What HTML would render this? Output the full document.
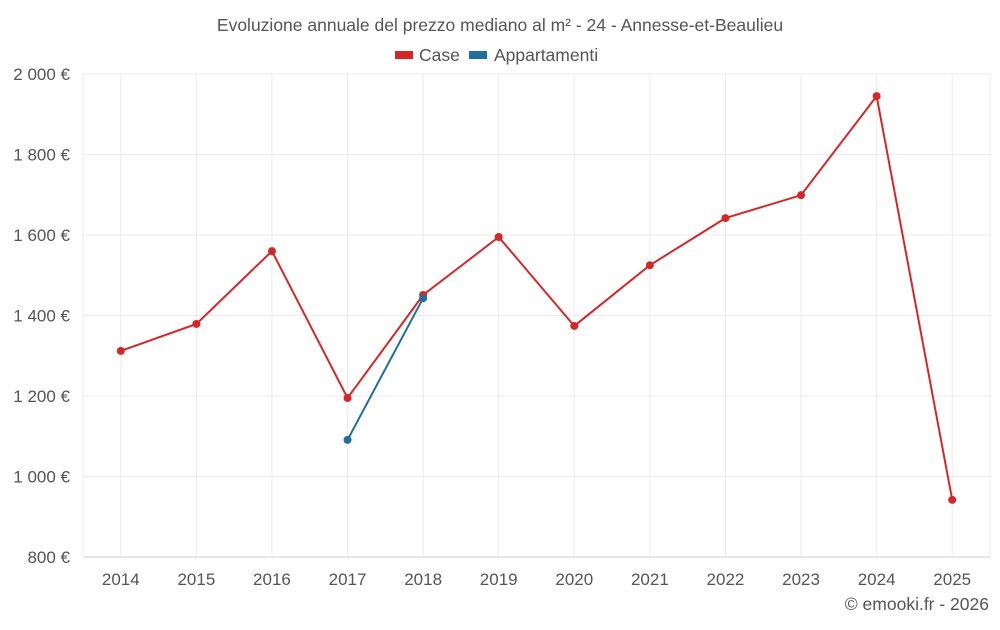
<!DOCTYPE html>
<html><head><meta charset="utf-8"><style>
body{margin:0;background:#fff;font-family:"Liberation Sans",sans-serif;}
svg text{font-family:"Liberation Sans",sans-serif;fill:#555;}
</style></head><body>
<svg id="chart" width="1000" height="625" xmlns="http://www.w3.org/2000/svg">
<text x="500" y="31" text-anchor="middle" font-size="17.5">Evoluzione annuale del prezzo mediano al m² - 24 - Annesse-et-Beaulieu</text>
<g>
<g><rect x="395" y="51" width="18" height="8" fill="#d62728"/><text x="419" y="61" font-size="17.5">Case</text></g>
<g><rect x="469" y="51" width="18" height="8" fill="#1f6fa0"/><text x="494" y="61" font-size="17.5">Appartamenti</text></g>
</g>
<g id="grid"></g><g id="axes"></g><g id="series"></g>
<text x="989" y="610" text-anchor="end" font-size="17.5">© emooki.fr - 2026</text>
</svg>
<script>
const years=[2014,2015,2016,2017,2018,2019,2020,2021,2022,2023,2024,2025];
const caseValues=[1312,1379,1560,1195,1451,1595,1374,1525,1642,1699,1945,942];
const apptYears=[2017,2018];
const apptValues=[1091,1443];
const yTicks=[800,1000,1200,1400,1600,1800,2000];
const yTickLabels=["800 €","1 000 €","1 200 €","1 400 €","1 600 €","1 800 €","2 000 €"];
const L=83,R=990,T=74,B=557,yMin=800,yMax=2000;
const step=(R-L)/years.length;
function x(yr){return L+step*(years.indexOf(yr)+0.5);}
function y(v){return B-(v-yMin)/(yMax-yMin)*(B-T);}
const NS="http://www.w3.org/2000/svg";
function mk(tag,attrs,parent){const e=document.createElementNS(NS,tag);for(const k in attrs)e.setAttribute(k,attrs[k]);document.getElementById(parent).appendChild(e);return e;}
yTicks.forEach((t,i)=>{
 const g=mk('line',{x1:L,x2:R,y1:y(t),y2:y(t),stroke:i===0?'#ccc':'#ebebeb','stroke-width':1},'grid');
 
 
 const tx=mk('text',{x:70,y:y(t)+6,'text-anchor':'end','font-size':17},'axes');tx.textContent=yTickLabels[i];
 
 
});
[L,R].forEach(xx=>{
 const e=mk('line',{x1:xx,x2:xx,y1:T,y2:B,stroke:'#ebebeb','stroke-width':1},'grid');
 
 
});
years.forEach(yr=>{
 const gl=mk('line',{x1:x(yr),x2:x(yr),y1:T,y2:B,stroke:'#ebebeb','stroke-width':1},'grid');
 
 
 const tx=mk('text',{x:x(yr),y:585,'text-anchor':'middle','font-size':17},'axes');tx.textContent=yr;
 
 
});
function series(xs,vals,color,name){
 const p=mk('polyline',{points:xs.map((yr,i)=>x(yr)+','+y(vals[i])).join(' '),fill:'none',stroke:color,'stroke-width':2},'series');
 
 
 xs.forEach((yr,i)=>{
  const c=mk('circle',{cx:x(yr),cy:y(vals[i]),r:4,fill:color},'series');
  
  
 });
}
series(years,caseValues,'#d62728','case');
series(apptYears,apptValues,'#1f6fa0','appartamenti');
</script>
</body></html>
